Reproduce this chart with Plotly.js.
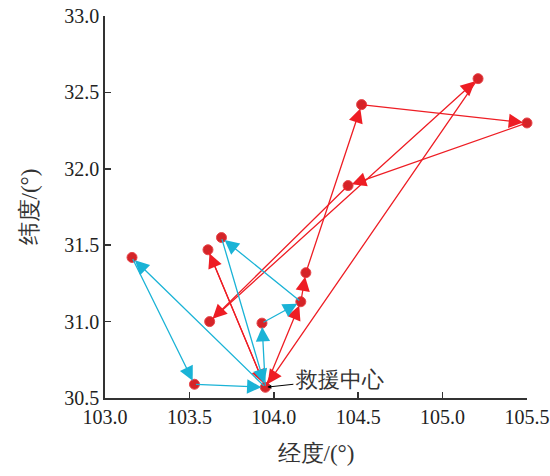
<!DOCTYPE html>
<html>
<head>
<meta charset="utf-8">
<script src="https://cdn.plot.ly/plotly-3.0.1.min.js"></script>
<style>html,body{margin:0;padding:0;background:#fff;}#chart{width:550px;height:476px;}</style>
</head>
<body>
<div id="chart"></div>
<script>
// Points: 0 = rescue center, others = demand points
const pointNames = ["救援中心","R1","R2","R3","R4","R5","R6","R7","C1","C2","C3","C4","C5"];
const lon = [103.95, 104.52, 105.21, 105.50, 104.44, 103.62, 103.61, 104.19, 103.16, 103.53, 103.69, 103.93, 104.16];
const lat = [30.57, 32.42, 32.59, 32.30, 31.89, 31.00, 31.47, 31.32, 31.42, 30.59, 31.55, 30.99, 31.13];
// Routes as sequences of point indices
const redRoutes = [[0, 12, 7, 1, 3, 4, 5, 2, 0], [0, 6, 0]];
const cyanRoutes = [[0, 8, 9, 0], [0, 11, 12, 10, 0]];
const xTicks = [103.0, 103.5, 104.0, 104.5, 105.0, 105.5];
const yTicks = [30.5, 31.0, 31.5, 32.0, 32.5, 33.0];

const RED = "#ee1d24";
const CYAN = "#1ab3d6";
const serif = "Liberation Serif";

const annotations = [];
function addRoutes(routes, color) {
  routes.forEach(r => {
    for (let i = 0; i < r.length - 1; i++) {
      const a = r[i], b = r[i + 1];
      annotations.push({
        x: lon[b], y: lat[b], ax: lon[a], ay: lat[a],
        xref: "x", yref: "y", axref: "x", ayref: "y",
        text: "", showarrow: true, arrowhead: 2, arrowsize: 2.2,
        arrowwidth: 1.3, arrowcolor: color, standoff: 4
      });
    }
  });
}
addRoutes(redRoutes, RED);
addRoutes(cyanRoutes, CYAN);

annotations.push({
  x: lon[0], y: lat[0], xref: "x", yref: "y",
  ax: 74, ay: -8, text: pointNames[0], showarrow: true,
  arrowhead: 2, arrowsize: 0.8, arrowwidth: 1, arrowcolor: "#000",
  standoff: 2, font: {family: serif, size: 22, color: "#333"}
});

const trace = {
  x: lon, y: lat, mode: "markers", type: "scatter", cliponaxis: false,
  marker: {size: 10, color: "#d42428", line: {color: "#e8454a", width: 1}},
  hoverinfo: "skip"
};

const layout = {
  width: 550, height: 476,
  margin: {l: 105, r: 23, t: 16, b: 78},
  paper_bgcolor: "#fff", plot_bgcolor: "#fff",
  showlegend: false,
  xaxis: {
    range: [103.0, 105.5], tickvals: xTicks, ticktext: xTicks.map(v => v.toFixed(1)),
    ticks: "inside", ticklen: 6, tickwidth: 1.5, tickcolor: "#333",
    showline: true, linecolor: "#333", linewidth: 1.8, showgrid: false, zeroline: false,
    tickfont: {family: serif, size: 20, color: "#222"},
    title: {text: "经度/(°)", font: {family: serif, size: 23, color: "#333"}, standoff: 18}
  },
  yaxis: {
    range: [30.5, 33.0], tickvals: yTicks, ticktext: yTicks.map(v => v.toFixed(1)),
    ticks: "inside", ticklen: 6, tickwidth: 1.5, tickcolor: "#333",
    showline: true, linecolor: "#333", linewidth: 1.8, showgrid: false, zeroline: false,
    tickfont: {family: serif, size: 20, color: "#222"},
    title: {text: "纬度/(°)", font: {family: serif, size: 23, color: "#333"}, standoff: 20}
  },
  annotations: annotations
};

Plotly.newPlot("chart", [trace], layout, {displayModeBar: false, staticPlot: true});
</script>
</body>
</html>
